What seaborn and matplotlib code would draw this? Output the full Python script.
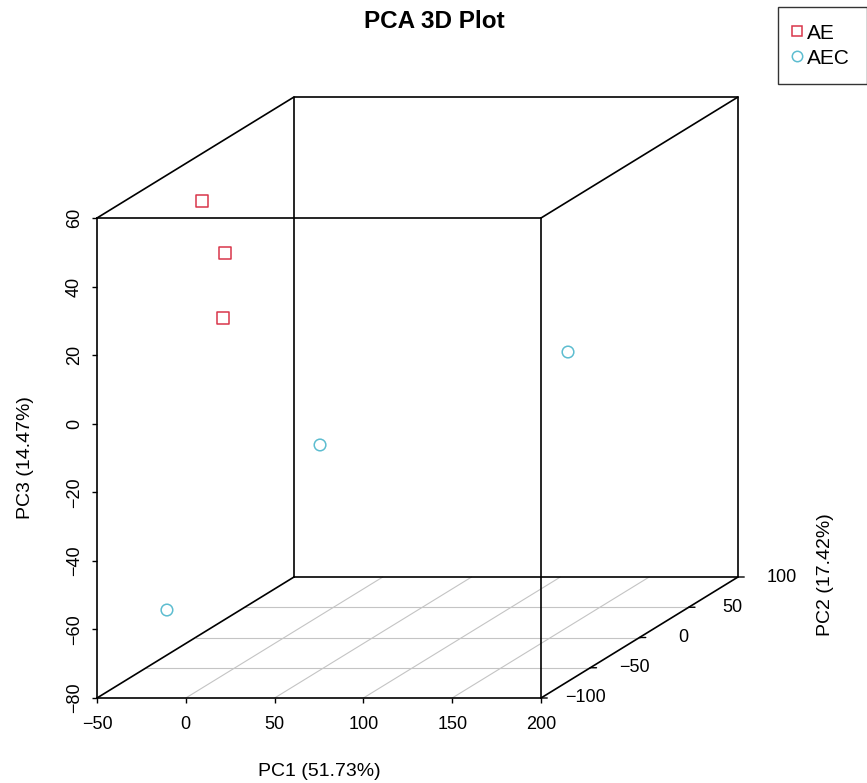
import matplotlib
matplotlib.use("Agg")
import matplotlib.pyplot as plt
import seaborn as sns
import numpy as np
import pandas as pd
from matplotlib.lines import Line2D

# ---- data ----
groups = ["AE", "AE", "AE", "AEC", "AEC", "AEC"]
pc1 = [-40.8, -33.4, -29.0, 154.2, -18.7, -32.8]
pc2 = [-10.0, 0.0, -10.0, 10.0, 70.0, -60.0]
pc3 = [49.1, 32.1, 15.0, 1.5, -36.2, -61.4]

x_ticks = [-50, 0, 50, 100, 150, 200]
y_ticks = [-100, -50, 0, 50, 100]
z_ticks = [-80, -60, -40, -20, 0, 20, 40, 60]

title = "PCA 3D Plot"
xlab = "PC1 (51.73%)"
ylab = "PC2 (17.42%)"
zlab = "PC3 (14.47%)"
group_colors = {"AE": "#D9364A", "AEC": "#5DBDD0"}
group_markers = {"AE": "s", "AEC": "o"}

sns.set_style("white")
plt.rcParams["font.family"] = ["Liberation Sans", "DejaVu Sans"]
plt.rcParams["text.color"] = "black"
plt.rcParams["axes.labelcolor"] = "black"
plt.rcParams["xtick.color"] = "black"
plt.rcParams["ytick.color"] = "black"

W, H = 867, 783
fig = plt.figure(figsize=(W / 100, H / 100), dpi=100)
# front face of the box
ax = fig.add_axes([97 / W, (H - 698) / H, (541 - 97) / W, (698 - 218) / H])
xmin, xmax = x_ticks[0], x_ticks[-1]
ymin, ymax = y_ticks[0], y_ticks[-1]
zmin, zmax = z_ticks[0], z_ticks[-1]
ax.set_xlim(xmin, xmax)
ax.set_ylim(zmin, zmax)

# oblique projection of the depth axis (PC2)
cx = 197 / ((541 - 97) / (xmax - xmin)) / (ymax - ymin)
cz = 121 / ((698 - 218) / (zmax - zmin)) / (ymax - ymin)


def proj(x, y, z):
    x = np.asarray(x, float)
    y = np.asarray(y, float)
    z = np.asarray(z, float)
    return x + (y - ymin) * cx, z + (y - ymin) * cz


def fmt(v):
    return str(v) if v >= 0 else "\u2212" + str(-v)


# floor grid
grid_kw = dict(color="#C4C4C4", lw=0.8, clip_on=False, zorder=1)
for xv in x_ticks[1:-1]:
    X, Z = proj([xv, xv], [ymin, ymax], [zmin, zmin])
    ax.plot(X, Z, **grid_kw)
for yv in y_ticks[1:-1]:
    X, Z = proj([xmin, xmax], [yv, yv], [zmin, zmin])
    ax.plot(X, Z, **grid_kw)

# box (back face + connecting edges)
box_kw = dict(color="black", lw=1.2, clip_on=False, zorder=3)
X, Z = proj([xmin, xmax, xmax, xmin, xmin], [ymax] * 5, [zmin, zmin, zmax, zmax, zmin])
ax.plot(X, Z, **box_kw)
for xv in (xmin, xmax):
    for zv in (zmin, zmax):
        X, Z = proj([xv, xv], [ymin, ymax], [zv, zv])
        ax.plot(X, Z, **box_kw)

for sp in ax.spines.values():
    sp.set_visible(True)
    sp.set_color("black")
    sp.set_linewidth(1.2)
    sp.set_zorder(3)

# x and z axes
ax.set_xticks(x_ticks)
ax.set_xticklabels([fmt(v) for v in x_ticks])
ax.set_yticks(z_ticks)
ax.set_yticklabels([fmt(v) for v in z_ticks], rotation=90, va="center")
ax.tick_params(axis="x", direction="out", length=3.8, width=1, pad=9.5,
               labelsize=13, bottom=True, colors="black")
ax.tick_params(axis="y", direction="out", length=3.8, width=1, pad=6.2,
               labelsize=13, left=True, colors="black")

# y (PC2) axis ticks and labels along the right floor edge
for yv in y_ticks:
    X, Z = proj(xmax, yv, zmin)
    ax.annotate("", xy=(X, Z), xytext=(4.5, 0), textcoords="offset points",
                arrowprops=dict(arrowstyle="-", lw=1, color="black",
                                shrinkA=0, shrinkB=0), annotation_clip=False)
    ax.annotate(fmt(yv), xy=(X, Z), xytext=(31.7, 0), textcoords="offset points",
                ha="center", va="center", fontsize=13, annotation_clip=False)

# points
df = pd.DataFrame({"group": groups, "pc1": pc1, "pc2": pc2, "pc3": pc3})
df["X"], df["Z"] = proj(df["pc1"], df["pc2"], df["pc3"])
for g, sub in df.groupby("group"):
    sns.scatterplot(data=sub, x="X", y="Z", ax=ax, marker=group_markers[g],
                    facecolor="none", edgecolor=group_colors[g], linewidth=1.1,
                    s=70, legend=False, clip_on=False, zorder=4)
ax.set_xlabel("")
ax.set_ylabel("")

# labels and title
fig.text(319 / W, 1 - 772 / H, xlab, ha="center", va="center", fontsize=14)
fig.text(25 / W, 1 - 458 / H, zlab, ha="center", va="center", fontsize=14, rotation=90)
fig.text(826 / W, 1 - 575 / H, ylab, ha="center", va="center", fontsize=14, rotation=90)
fig.text(434 / W, 1 - 21 / H, title, ha="center", va="center", fontsize=17.5,
         fontweight="bold")

handles = [Line2D([], [], ls="none", marker=group_markers[g], markersize=7.5,
                  markerfacecolor="none", markeredgecolor=group_colors[g],
                  markeredgewidth=1.1, label=g) for g in ["AE", "AEC"]]
leg = fig.legend(handles=handles, loc="upper left",
                 bbox_to_anchor=(778 / W, 1 - 7 / H), fontsize=15,
                 frameon=True, fancybox=False, edgecolor="black",
                 handlelength=0.2, handletextpad=0.4, borderpad=0.8,
                 labelspacing=0.29, borderaxespad=0)
leg.get_frame().set_linewidth(1.0)

fig.savefig("out.png", dpi=100)
